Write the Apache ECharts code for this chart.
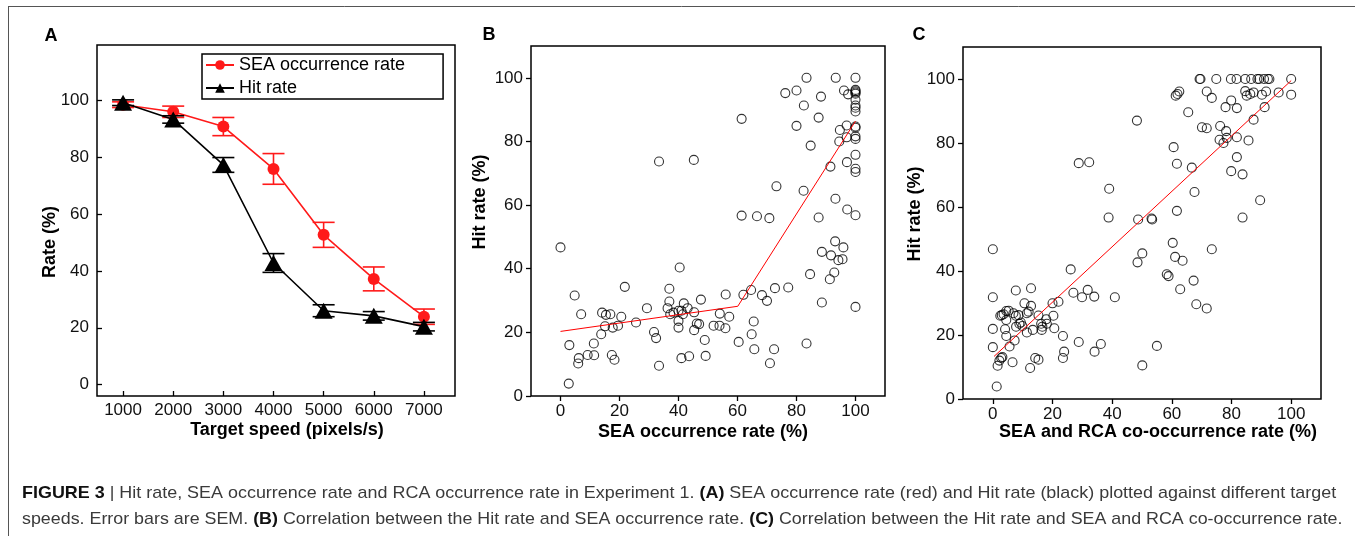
<!DOCTYPE html>
<html><head><meta charset="utf-8">
<script src="https://cdn.jsdelivr.net/npm/echarts@6/dist/echarts.min.js"></script>
<style>html,body{margin:0;padding:0;background:#fff}#c{width:1355px;height:536px}</style>
</head><body><div id="c"></div>
<script>
// ---- Panel A data ----
const speeds = [1000, 2000, 3000, 4000, 5000, 6000, 7000];
const speedTicks = [1000, 2000, 3000, 4000, 5000, 6000, 7000];
const seaRate = [98.5, 96.0, 90.8, 75.9, 52.7, 37.2, 23.9];
const seaSem  = [1.0, 2.0, 3.2, 5.4, 4.4, 4.2, 2.7];
const hitRate = [99.2, 93.3, 77.3, 42.8, 26.0, 24.2, 20.4];
const hitSem  = [1.0, 1.3, 2.6, 3.3, 2.1, 1.5, 1.5];
const rateTicks = [0, 20, 40, 60, 80, 100];
const pctTicks = [0, 20, 40, 60, 80, 100];

// ---- Panel B data: [SEA occurrence rate, Hit rate] ----
const bPoints = [
 [0,46.7],[2.8,3.9],[3,16],[4.8,31.6],[6.2,11.9],[6,10.2],[7,25.7],[9.2,12.9],[11.3,16.5],[11.4,12.8],
 [13.8,19.4],[14.1,26.2],[15.1,21.9],[15.4,25.5],[16.9,25.7],[17.4,12.9],[17.7,21.5],[18.3,11.4],[19.5,22.1],[20.6,24.9],
 [21.8,34.3],[25.6,23.1],[29.3,27.6],[31.7,20.1],[32.4,18.2],[33.4,73.7],[33.4,9.5],[36.3,27.6],[36.9,33.7],[36.9,29.7],
 [37.2,25.7],[38.3,26.2],[40,26.8],[40,23.6],[40,21.5],[40.4,40.4],[41,26.8],[41,11.9],[41.5,25.7],[41.8,29.1],
 [43.1,27.6],[43.6,12.5],[45.3,26.3],[45.2,74.2],[45.3,20.7],[46.2,22.8],[47,22.6],[47.6,30.3],[48.9,17.6],[49.2,12.6],
 [51.9,22.1],[53.9,22.1],[54,25.9],[55.9,21.3],[56,31.9],[57.2,24.9],[60.4,17],[61.4,87.1],[61.4,56.7],[62,31.8],
 [64.6,33.3],[64.8,19.4],[65.5,23.4],[65.7,14.7],[66.6,56.5],[68.3,31.7],[70,29.9],[70.8,55.9],[71,10.3],[72.4,14.7],
 [72.7,33.9],[73.2,65.9],[76.2,95.2],[77.2,34.1],[80,96],[80,84.9],[82.5,91.3],[82.4,64.5],[83.4,100],[83.4,16.5],
 [84.8,78.7],[84.6,38.3],[87.5,87.5],[87.5,56.1],[88.3,94.1],[88.6,45.3],[88.6,29.4],[91.5,72.1],[91.7,44.2],[91.3,36.7],
 [92.8,38.8],[93.1,48.6],[93.2,62],[93.3,100],[94.2,42.7],[94.5,80],[94.7,83.6],[95.6,43],[95.9,46.7],[96.1,96],
 [97,85],[97,81.3],[97.1,73.5],[97.2,58.6],[97.5,94.8],
 [100,100],[100,96.2],[100,95.8],[100,95.4],[100,95],[100,93.1],[100,91.3],[100,90.6],[100,89.4],[100,84.7],
 [100,84.3],[100,81.6],[100,80.8],[100,75.8],[100,71.4],[100,70.4],[100,56.8],[100,28]
];
const bFit = [[0,20.3],[60.1,28.2],[100,86.4]];

// ---- Panel C data: [SEA and RCA co-occurrence rate, Hit rate] ----
const cPoints = [
 [0,46.8],[0,31.8],[0,21.9],[0,16.2],[1.3,3.9],[1.6,10.4],[2.2,12],[2.8,12.8],[3.2,13.1],[2.5,26],
 [3,26.2],[3.6,26.5],[4.1,21.8],[4.5,19.7],[4.5,24.7],[4.5,27.5],[5.3,27.6],[5.6,16.4],[6.6,11.5],[6.9,26.8],
 [7.3,18.3],[7.7,33.9],[7.7,26],[7.8,22.6],[8.6,26.2],[8.9,23.5],[9.4,23.9],[9.9,22.8],[10.6,29.9],[11.4,26.8],
 [11.4,20.8],[12,27.3],[12.5,9.7],[12.8,34.6],[12.8,29.1],[13.4,21.6],[14.2,12.8],[15.3,12.3],[15.3,26.1],[16.2,23.5],
 [16.4,21.6],[16.6,22.6],[17.9,24.9],[18.1,23.5],[20,29.9],[20.3,26],[20.6,22.1],[22,30.4],[23.5,19.7],[23.5,12.8],
 [23.9,14.8],[26.1,40.5],[27,33.2],[28.8,73.7],[28.8,17.8],[29.9,31.8],[31.8,34.1],[32.3,74],[34,32],[34.1,14.8],
 [36.2,17.2],[38.8,56.7],[39,65.7],[40.9,31.8],[48.3,87],[48.5,42.7],[48.7,56.1],[50.1,45.5],[50.1,10.5],[53.2,56.4],
 [53.4,56.1],[55,16.6],[58.3,39],[58.9,38.4],[60.3,48.8],[60.6,78.7],[61.1,44.4],[61.3,94.8],[61.9,95.3],[62.5,96.1],
 [61.7,73.5],[61.7,58.8],[62.8,34.3],[63.6,43.2],[65.5,89.6],[66.7,72.3],[67.3,37],[67.6,64.7],[68.2,29.6],[69.3,100],
 [69.6,100],[70.1,84.9],[71.7,96.1],[71.7,84.6],[71.7,28.3],[73.4,94.1],[73.4,46.8],[74.9,100],[76.2,85.3],[76,81],
 [77.3,80],[78,91.2],[78.2,83.7],[78.4,81.6],[79.8,100],[79.9,93.3],[79.9,71.2],[81.7,100],[81.8,90.9],[81.8,81.8],
 [81.8,75.6],[83.7,70.2],[83.7,56.7],[84.6,100],[84.6,96.2],[85.1,94.8],[85.7,80.8],[86.3,95.3],[86.6,100],[87.4,95.8],
 [87.4,87.3],[88.7,100],[89.3,100],[89.6,62.1],[90.2,95.1],[90.9,100],[91.1,91.2],[91.6,96.1],[92.2,100],[92.7,100],
 [95.8,95.8],[100,100],[100,95.1]
];
const cFit = [[0.4,13.3],[100,99.5]];

const FONT = 'Liberation Sans, Arial, sans-serif';
const chart = echarts.init(document.getElementById('c'), null, {renderer: 'canvas'});

function errBar(color, capW) {
  return function (params, api) {
    const x = api.value(0), lo = api.value(1), hi = api.value(2);
    const a = api.coord([x, lo]), b = api.coord([x, hi]);
    const st = {stroke: color, lineWidth: 1.6};
    return {type: 'group', children: [
      {type: 'line', shape: {x1: a[0], y1: a[1], x2: b[0], y2: b[1]}, style: st},
      {type: 'line', shape: {x1: a[0] - capW / 2, y1: a[1], x2: a[0] + capW / 2, y2: a[1]}, style: st},
      {type: 'line', shape: {x1: b[0] - capW / 2, y1: b[1], x2: b[0] + capW / 2, y2: b[1]}, style: st}
    ]};
  };
}

const gridBase = {show: true, borderColor: '#000', borderWidth: 1.5, backgroundColor: 'transparent', containLabel: false};
const lbl = {color: '#111', fontSize: 17, fontFamily: FONT, formatter: v => String(v)};

function valAxis(idx, min, max, ticks, inside, margin) {
  return {
    type: 'value', gridIndex: idx, min: min, max: max,
    axisLine: {show: false, onZero: false},
    splitLine: {show: false},
    axisTick: {show: true, inside: inside, length: 5, lineStyle: {color: '#000', width: 1.3}, customValues: ticks},
    axisLabel: Object.assign({margin: margin, customValues: ticks}, lbl)
  };
}

const seaErr = speeds.map((s, i) => [s, seaRate[i] - seaSem[i], seaRate[i] + seaSem[i]]);
const hitErr = speeds.map((s, i) => [s, hitRate[i] - hitSem[i], hitRate[i] + hitSem[i]]);

const titleStyle = {fill: '#000', font: 'bold 18px ' + FONT, textAlign: 'center', textVerticalAlign: 'middle'};
function gText(x, y, text, rot, extra) {
  return {type: 'text', x: x, y: y, rotation: rot || 0, style: Object.assign({text: text}, titleStyle, extra || {})};
}

const capRich = {b: {fontWeight: 'bold', fontSize: 17, fontFamily: FONT, fill: '#111'}};

const option = {
  backgroundColor: '#fff',
  animation: false,
  textStyle: {fontFamily: FONT},
  grid: [
    Object.assign({left: 97, top: 45, width: 358, height: 351}, gridBase),
    Object.assign({left: 531, top: 46, width: 354, height: 350}, gridBase),
    Object.assign({left: 963, top: 47, width: 358, height: 352}, gridBase)
  ],
  xAxis: [
    valAxis(0, 480, 7620, speedTicks, true, 6),
    valAxis(1, -10, 110, pctTicks, false, 7),
    valAxis(2, -10, 110, pctTicks, false, 7)
  ],
  yAxis: [
    valAxis(0, -4, 119.5, rateTicks, true, 8),
    valAxis(1, 0, 110, pctTicks, false, 8),
    valAxis(2, 0, 110, pctTicks, false, 8)
  ],
  legend: {
    left: 202, top: 54, orient: 'vertical',
    data: ['SEA occurrence rate', 'Hit rate'],
    borderColor: '#000', borderWidth: 1.5, borderRadius: 0,
    padding: [2, 38, 2, 3],
    itemWidth: 28, itemHeight: 12, itemGap: 5,
    textStyle: {fontSize: 18, color: '#000', fontFamily: FONT}
  },
  series: [
    {type: 'custom', xAxisIndex: 0, yAxisIndex: 0, renderItem: errBar('#ff1a1a', 22), data: seaErr, z: 2, silent: true},
    {name: 'SEA occurrence rate', type: 'line', xAxisIndex: 0, yAxisIndex: 0, data: speeds.map((s, i) => [s, seaRate[i]]),
     symbol: 'circle', symbolSize: 12, lineStyle: {color: '#ff1a1a', width: 1.6}, itemStyle: {color: '#ff1a1a'}, z: 3},
    {type: 'custom', xAxisIndex: 0, yAxisIndex: 0, renderItem: errBar('#000', 22), data: hitErr, z: 4, silent: true},
    {name: 'Hit rate', type: 'line', xAxisIndex: 0, yAxisIndex: 0, data: speeds.map((s, i) => [s, hitRate[i]]),
     symbol: 'triangle', symbolSize: [18, 16], lineStyle: {color: '#000', width: 1.6}, itemStyle: {color: '#000'}, z: 5},

    {type: 'scatter', xAxisIndex: 1, yAxisIndex: 1, data: bPoints, symbol: 'circle', symbolSize: 9,
     itemStyle: {color: 'rgba(0,0,0,0)', borderColor: '#000', borderWidth: 1.1}, z: 2},
    {type: 'line', xAxisIndex: 1, yAxisIndex: 1, data: bFit, symbol: 'none', lineStyle: {color: '#ff0000', width: 1}, z: 3},

    {type: 'scatter', xAxisIndex: 2, yAxisIndex: 2, data: cPoints, symbol: 'circle', symbolSize: 9,
     itemStyle: {color: 'rgba(0,0,0,0)', borderColor: '#000', borderWidth: 1.1}, z: 2},
    {type: 'line', xAxisIndex: 2, yAxisIndex: 2, data: cFit, symbol: 'none', lineStyle: {color: '#ff0000', width: 1}, z: 3}
  ],
  graphic: [
    {type: 'line', shape: {x1: 8, y1: 6.5, x2: 1355, y2: 6.5}, style: {stroke: '#555', lineWidth: 1}},
    {type: 'line', shape: {x1: 8.5, y1: 6, x2: 8.5, y2: 536}, style: {stroke: '#555', lineWidth: 1}},
    gText(51, 36, 'A', 0),
    gText(489, 35, 'B', 0),
    gText(919, 35, 'C', 0),
    gText(50, 242, 'Rate (%)', Math.PI / 2),
    gText(287, 430, 'Target speed (pixels/s)', 0),
    gText(480, 202, 'Hit rate (%)', Math.PI / 2),
    gText(703, 432, 'SEA occurrence rate (%)', 0),
    gText(915, 214, 'Hit rate (%)', Math.PI / 2),
    gText(1158, 432, 'SEA and RCA co-occurrence rate (%)', 0),
    {type: 'text', x: 22, y: 493, scaleX: 1.055, style: {
      text: '{b|FIGURE 3} | Hit rate, SEA occurrence rate and RCA occurrence rate in Experiment 1. {b|(A)} SEA occurrence rate (red) and Hit rate (black) plotted against different target',
      font: '17px ' + FONT, fill: '#3a3a3a', textVerticalAlign: 'middle', rich: capRich
    }},
    {type: 'text', x: 22, y: 519, scaleX: 1.05, style: {
      text: 'speeds. Error bars are SEM. {b|(B)} Correlation between the Hit rate and SEA occurrence rate. {b|(C)} Correlation between the Hit rate and SEA and RCA co-occurrence rate.',
      font: '17px ' + FONT, fill: '#3a3a3a', textVerticalAlign: 'middle', rich: capRich
    }}
  ]
};
chart.setOption(option);
</script>
</body></html>
